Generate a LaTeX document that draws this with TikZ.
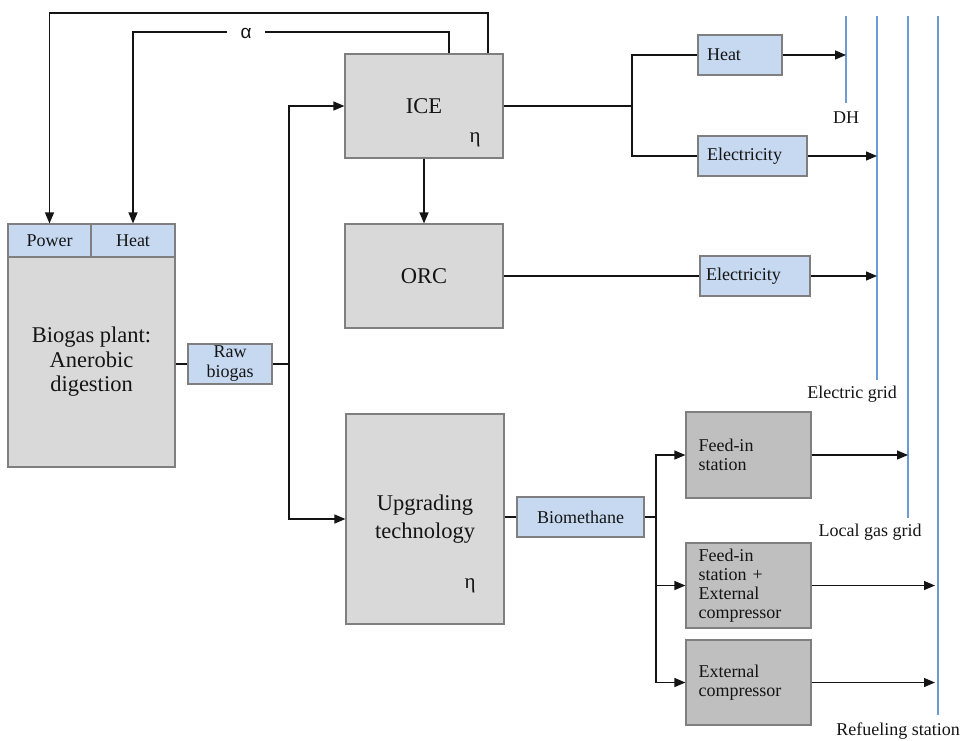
\documentclass[tikz,border=0pt]{standalone}
\usepackage{fontspec}
\setmainfont{Liberation Serif}
\newfontfamily\alphafont{Liberation Sans}
\usetikzlibrary{arrows.meta}
\definecolor{boxgray}{HTML}{D9D9D9}
\definecolor{darkgray}{HTML}{BFBFBF}
\definecolor{lblue}{HTML}{C6D9F1}
\definecolor{edgegray}{HTML}{7F7F7F}
\definecolor{gridblue}{RGB}{110,155,215}
\definecolor{ink}{HTML}{141414}
\tikzset{
  bigbox/.style={draw=edgegray, fill=boxgray, line width=1.2pt, inner sep=0pt, align=center,
    font=\fontsize{22.5}{24.5}\selectfont, text=ink},
  labbox/.style={draw=edgegray, fill=lblue, line width=1.2pt, inner sep=0pt, align=center,
    font=\fontsize{18}{20}\selectfont, text=ink, minimum height=40pt},
  leftlab/.style={labbox, align=left, inner xsep=9pt},
  darkbox/.style={draw=edgegray, fill=darkgray, line width=1.2pt, inner xsep=12pt, inner ysep=0pt,
    text width=100pt, align=left, font=\fontsize{18}{19}\selectfont, text=ink, minimum width=125pt},
  conn/.style={draw=ink, line width=1.3pt},
  arr/.style={conn, -{Triangle[length=11pt,width=9pt]}},
  gridline/.style={draw=gridblue, line width=1.7pt},
  gridlab/.style={font=\fontsize{18}{19}\selectfont, text=ink, inner sep=0pt},
  eta/.style={font=\fontsize{21}{22}\selectfont, text=ink, inner sep=0pt}
}
\begin{document}
\begin{tikzpicture}[x=1pt,y=-1pt]
\useasboundingbox (0,0) rectangle (968,740);
% left plant
\node[bigbox, minimum width=167pt, minimum height=210pt] (biogas) at (91.5,362) {Biogas plant:\\Anerobic\\digestion};
\node[labbox, minimum width=83pt, minimum height=33pt] (power) at (49.5,240.5) {Power};
\node[labbox, minimum width=84pt, minimum height=33pt] (heatin) at (133,240.5) {Heat};
\node[labbox, minimum width=84pt] (raw) at (230,364) {Raw\\biogas};
% central boxes
\node[bigbox, minimum width=158pt, minimum height=104pt] (ice) at (424,106) {ICE};
\node[eta] (eta1) at (475,140) {η};
\node[bigbox, minimum width=158pt, minimum height=104pt] (orc) at (424,276) {ORC};
\node[bigbox, minimum width=158pt, minimum height=210pt, font=\fontsize{22.5}{28}\selectfont] (upg) at (425,519) {Upgrading\\technology};
\node[eta] (eta2) at (470,586) {η};
% outputs
\node[leftlab, minimum width=84pt, text width=66pt] (heatout) at (740,55) {Heat};
\node[leftlab, minimum width=109pt, text width=91pt] (elec1) at (752.5,156) {Electricity};
\node[leftlab, minimum width=110pt, text width=98pt, inner xsep=6pt] (elec2) at (755,276) {Electricity};
\node[labbox, minimum width=127pt] (biometh) at (580.5,517) {Biomethane};
\node[darkbox, minimum height=86pt] (feed1) at (748.5,455) {Feed-in\\station};
\node[darkbox, minimum height=85pt] (feed2) at (748.5,585.5) {Feed-in\\station +\\External\\compressor};
\node[darkbox, minimum height=85pt] (feed3) at (748.5,682.5) {External\\compressor};
% grid lines
\coordinate (dhtop) at (846,16); \coordinate (dhbot) at (846,103);
\coordinate (egtop) at (877,16); \coordinate (egbot) at (877,380);
\coordinate (lgtop) at (908,16); \coordinate (lgbot) at (908,518);
\coordinate (rftop) at (938,16); \coordinate (rfbot) at (938,715);
\draw[gridline] (dhtop) -- (dhbot);
\draw[gridline] (egtop) -- (egbot);
\draw[gridline] (lgtop) -- (lgbot);
\draw[gridline] (rftop) -- (rfbot);
\node[gridlab] (dhl) at (846,118) {DH};
\node[gridlab] (egl) at (852,394) {Electric grid};
\node[gridlab] (lgl) at (870,532) {Local gas grid};
\node[gridlab] (rfl) at (898,731) {Refueling station};
% biogas path
\coordinate (spine) at (289,364);
\draw[conn] (biogas.east |- raw.west) -- (raw.west);
\draw[conn] (raw.east) -- (spine);
\draw[arr] (spine) |- (ice.west);
\draw[arr] (spine) |- (upg.west);
\draw[arr] (ice.south) -- (orc.north);
% ICE outputs
\coordinate (split1) at (632,106);
\draw[conn] (ice.east) -- (split1);
\draw[conn] (split1) |- (heatout.west);
\draw[conn] (split1) |- (elec1.west);
\draw[arr] (heatout.east) -- (heatout.east -| dhtop);
\draw[arr] (elec1.east) -- (elec1.east -| egtop);
\draw[conn] (orc.east) -- (elec2.west);
\draw[arr] (elec2.east) -- (elec2.east -| egtop);
% upgrading outputs
\coordinate (split2) at (656,517);
\draw[conn] (biometh.west -| upg.east) -- (biometh.west);
\draw[conn] (biometh.east) -- (split2);
\draw[arr] (split2) |- (feed1.west);
\draw[arr] (split2) |- (feed2.west);
\draw[arr] (split2) |- (feed3.west);
\draw[arr] (feed1.east) -- (feed1.east -| lgtop);
\draw[arr] (feed2.east) -- ([xshift=-3pt]feed2.east -| rftop);
\draw[arr] (feed3.east) -- ([xshift=-3pt]feed3.east -| rftop);
% feedback loops
\coordinate (fb1) at (488,13);
\coordinate (fb2) at (449,32);
\draw[arr] (ice.north -| fb1) |- (power.north |- fb1) -- (power.north);
\draw[arr] (ice.north -| fb2) |- (heatin.north |- fb2) -- (heatin.north);
\node[fill=white, inner sep=0pt, minimum width=38pt, minimum height=14pt, font=\alphafont\fontsize{19}{20}\selectfont, text=ink] (alpha) at (246,33) {α};
\end{tikzpicture}
\end{document}
